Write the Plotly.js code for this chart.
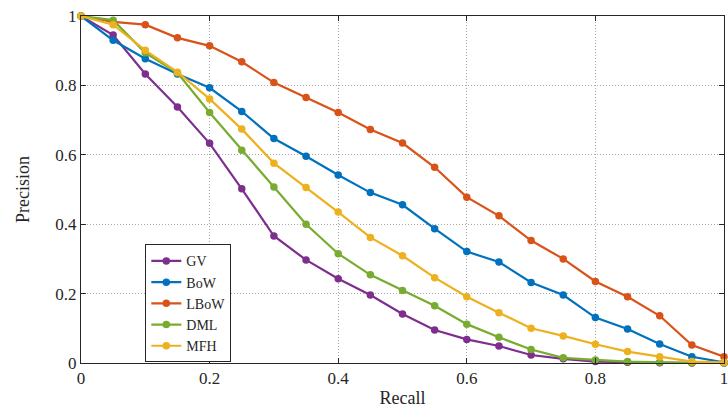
<!DOCTYPE html>
<html>
<head>
<meta charset="utf-8">
<script src="https://cdn.plot.ly/plotly-3.0.1.min.js"></script>
<style>html,body{margin:0;padding:0;background:#fff;}#chart{width:728px;height:408px;}</style>
</head>
<body>
<div id="chart"></div>
<script>
const recall = [0,0.05,0.1,0.15,0.2,0.25,0.3,0.35,0.4,0.45,0.5,0.55,0.6,0.65,0.7,0.75,0.8,0.85,0.9,0.95,1];
const seriesNames = ["GV","BoW","LBoW","DML","MFH"];
const gv   = [1,0.945,0.833,0.738,0.633,0.502,0.366,0.297,0.243,0.196,0.141,0.095,0.068,0.049,0.023,0.012,0.004,0.002,0.001,0,0];
const bow  = [1,0.930,0.877,0.833,0.793,0.725,0.647,0.596,0.542,0.491,0.456,0.387,0.321,0.291,0.232,0.196,0.131,0.098,0.055,0.018,0.002];
const lbow = [1,0.983,0.975,0.937,0.914,0.868,0.808,0.765,0.722,0.673,0.634,0.564,0.478,0.424,0.353,0.300,0.235,0.191,0.136,0.052,0.018];
const dml  = [1,0.988,0.894,0.836,0.722,0.613,0.507,0.400,0.315,0.254,0.209,0.165,0.112,0.074,0.039,0.015,0.009,0.004,0.002,0.001,0];
const mfh  = [1,0.975,0.901,0.838,0.761,0.674,0.576,0.506,0.435,0.362,0.309,0.246,0.191,0.145,0.100,0.078,0.054,0.033,0.018,0.004,0.002];
const tickVals = [0,0.2,0.4,0.6,0.8,1];
const tickText = ["0","0.2","0.4","0.6","0.8","1"];
const colors = ["#7E2F8E","#0072BD","#D95319","#77AC30","#EDB120"];
const allY = [gv,bow,lbow,dml,mfh];

const font = "'Liberation Serif', 'DejaVu Serif', serif";
const traces = allY.map((ys,i)=>({
  x: recall, y: ys, name: seriesNames[i], type:'scatter', mode:'lines+markers',
  line:{color:colors[i], width:2.2}, marker:{color:colors[i], size:7.5},
  cliponaxis:false
}));

const axisCommon = {
  range:[0,1], tickvals:tickVals, ticktext:tickText,
  showgrid:true, gridcolor:'#a8a8a8', griddash:'1px,2px', gridwidth:1,
  zeroline:false, showline:true, linecolor:'#262626', linewidth:1,
  mirror:'ticks', ticks:'inside', ticklen:5, tickcolor:'#262626',
  ticklabeloverflow:'allow',
  tickfont:{family:font, size:17, color:'#262626'}
};

const layout = {
  width:728, height:408,
  margin:{l:81, r:4, t:16, b:45},
  paper_bgcolor:'#fff', plot_bgcolor:'#fff',
  showlegend:true,
  xaxis: Object.assign({}, axisCommon, {title:{text:'Recall', font:{family:font, size:18, color:'#262626'}, standoff:4}}),
  yaxis: Object.assign({}, axisCommon, {title:{text:'Precision', font:{family:font, size:18, color:'#262626'}, standoff:21}}),
  legend:{x:0.1, y:0.342, xanchor:'left', yanchor:'top', bgcolor:'#fff', bordercolor:'#262626', borderwidth:1,
    font:{family:font, size:14, color:'#262626'}, itemwidth:30, tracegroupgap:0}
};
Plotly.newPlot('chart', traces, layout, {displayModeBar:false, staticPlot:true});
</script>
</body>
</html>
